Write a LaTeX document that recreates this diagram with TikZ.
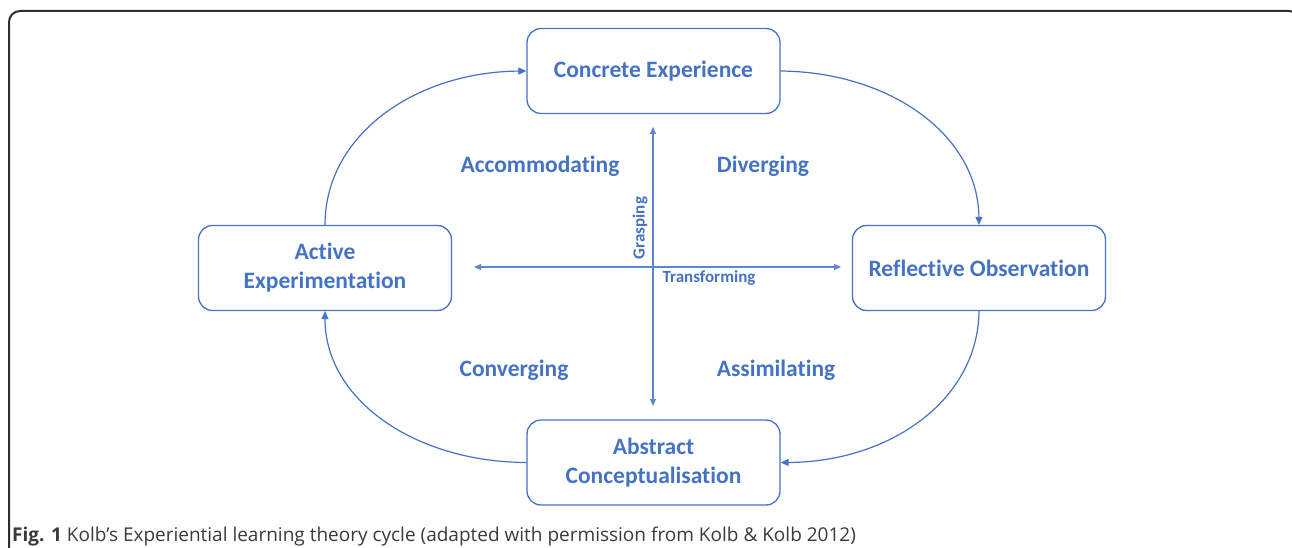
\documentclass[tikz,border=0pt]{standalone}
\usepackage{fontspec}
\setmainfont{Carlito}[Ligatures=NoCommon]
\newfontfamily\capfont{Open Sans}
\usetikzlibrary{arrows.meta}
\definecolor{kblue}{HTML}{4472C4}
\definecolor{kaxis}{HTML}{5B86D0}
\definecolor{kgray}{HTML}{3A3A3A}
\tikzset{
  stagebox/.style={draw=kblue, line width=1.3pt, rounded corners=14pt, minimum width=253pt, minimum height=85pt, align=center, text=kblue, font=\bfseries\fontsize{23.5}{29}\selectfont, inner sep=0pt},
  quad/.style={text=kblue, font=\bfseries\fontsize{23.5}{26}\selectfont, inner sep=0pt},
  axlab/.style={text=kblue, font=\bfseries\fontsize{17}{19}\selectfont, inner sep=0pt},
  cyc/.style={draw=kblue, line width=1.2pt, -{Triangle[width=7pt,length=8pt]}},
  ax/.style={draw=kaxis, line width=1.1pt, {Triangle[width=6pt,length=7pt]}-{Triangle[width=6pt,length=7pt]}}
}
\begin{document}
\begin{tikzpicture}[x=1pt,y=-1pt]
\useasboundingbox (0,0) rectangle (1292,548);
% outer frame
\draw[kgray!80!black, line width=2pt, rounded corners=11pt] (9,560) -- (9,11) -- (1300,11) -- (1300,560);
% stage boxes
\node[stagebox] (ce) at (653.5,71) {\raisebox{-2pt}{Concrete Experience}};
\node[stagebox] (ro) at (979,268) {Reflective Observation};
\node[stagebox] (ac) at (653.5,462.5) {Abstract\\Conceptualisation};
\node[stagebox] (ae) at (325,268) {Active\\Experimentation};
% axes
\coordinate (vt) at (653,127);
\coordinate (vb) at (653,406);
\coordinate (hl) at (474,267);
\coordinate (hr) at (841,267);
\draw[ax] (vt) -- (vb);
\draw[ax] (hl) -- (hr);
\node[axlab, rotate=90] (gr) at (640,228) {Grasping};
\node[axlab] (tr) at (709,278) {Transforming};
% quadrant labels
\node[quad] (acc) at (540,166) {Accommodating};
\node[quad] (div) at (763,166) {Diverging};
\node[quad] (con) at (514,370) {Converging};
\node[quad] (ass) at (776,370) {Assimilating};
% cycle arrows
\draw[cyc] (ce.east) .. controls (890,72) and (978,135) .. (ro.north);
\draw[cyc] (ro.south) .. controls (978,400) and (890,462) .. (ac.east);
\draw[cyc] (ac.west) .. controls (415,462) and (325,400) .. (ae.south);
\draw[cyc] (ae.north) .. controls (325,135) and (415,72) .. (ce.west);
% caption
\node[anchor=base west, inner sep=0pt, text=kgray, font=\capfont\fontsize{19}{21}\selectfont] (cap) at (12,541) {\textbf{Fig. 1} Kolb’s Experiential learning theory cycle (adapted with permission from Kolb \& Kolb 2012)};
\end{tikzpicture}
\end{document}
